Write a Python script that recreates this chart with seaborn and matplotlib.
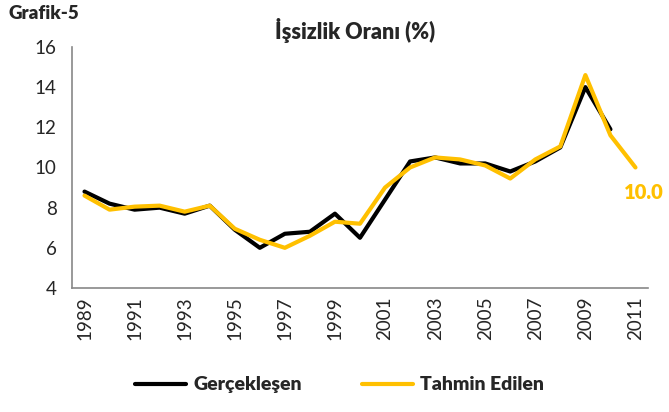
import pandas as pd
import matplotlib
matplotlib.use("Agg")
import matplotlib.pyplot as plt
import seaborn as sns

# data
years = list(range(1989, 2012))
gerceklesen = [8.8, 8.2, 7.9, 8.0, 7.7, 8.1, 6.9, 6.0, 6.7, 6.8, 7.7, 6.5,
               8.4, 10.3, 10.5, 10.2, 10.2, 9.8, 10.3, 11.0, 14.0, 11.9, None]
tahmin = [8.6, 7.9, 8.05, 8.1, 7.8, 8.1, 6.95, 6.4, 6.0, 6.6, 7.3, 7.2,
          9.0, 10.0, 10.5, 10.4, 10.1, 9.45, 10.4, 11.05, 14.6, 11.6, 10.0]
tick_years = list(range(1989, 2012, 2))

df = pd.DataFrame({"Yil": years, "Gerçekleşen": gerceklesen, "Tahmin Edilen": tahmin})
df_long = df.melt(id_vars="Yil", var_name="Seri", value_name="Oran").dropna()

sns.set_style("white")
plt.rcParams["font.family"] = ["Lato", "DejaVu Sans"]

fig = plt.figure(figsize=(6.69, 4.12), dpi=100)
ax = fig.add_axes([0.1076, 0.301, 0.861, 0.585])

sns.lineplot(data=df_long, x="Yil", y="Oran", hue="Seri",
             palette={"Gerçekleşen": "#000000", "Tahmin Edilen": "#FFC000"},
             linewidth=3.0, ax=ax, legend=False)

# end label
ax.text(years[-1] - 0.45, tahmin[-1] - 0.75, f"{tahmin[-1]:.1f}", color="#FFC000",
        fontsize=14.5, fontweight="heavy", ha="left", va="top", clip_on=False)

ax.set_xlim(years[0] - 0.5, years[-1] + 0.5)
ax.set_ylim(4, 16)
ax.set_yticks(range(4, 17, 2))
ax.set_xticks([y - 0.5 for y in years] + [years[-1] + 0.5])
ax.set_xticklabels([])
ax.set_xticks(tick_years, minor=True)
ax.set_xticklabels([str(y) for y in tick_years], minor=True, rotation=90)
ax.tick_params(axis="x", which="major", length=5, color="#888888", width=1)
ax.tick_params(axis="x", which="minor", length=0, labelsize=13.5, pad=6)
ax.tick_params(axis="y", length=5, color="#888888", width=1, labelsize=13.5, pad=6)
ax.set_xlabel("")
ax.set_ylabel("")
for s in ["top", "right"]:
    ax.spines[s].set_visible(False)
for s in ["left", "bottom"]:
    ax.spines[s].set_color("#888888")
    ax.spines[s].set_linewidth(1.2)

fig.text(0.53, 0.925, "İşsizlik Oranı (%)", ha="center", va="center",
         fontsize=15.5, fontweight="heavy")
fig.text(0.012, 0.968, "Grafik-5", ha="left", va="center",
         fontsize=13.5, fontweight="heavy")

handles = [plt.Line2D([], [], color="#000000", lw=3.0),
           plt.Line2D([], [], color="#FFC000", lw=3.0)]
fig.legend(handles, ["Gerçekleşen", "Tahmin Edilen"], loc="center left",
           bbox_to_anchor=(135 / 669, 0.066), ncol=2, frameon=False,
           borderpad=0, borderaxespad=0,
           handlelength=2.6, handletextpad=0.4, columnspacing=3.1,
           prop={"weight": "heavy", "size": 14})

fig.savefig("out.png", dpi=100)
